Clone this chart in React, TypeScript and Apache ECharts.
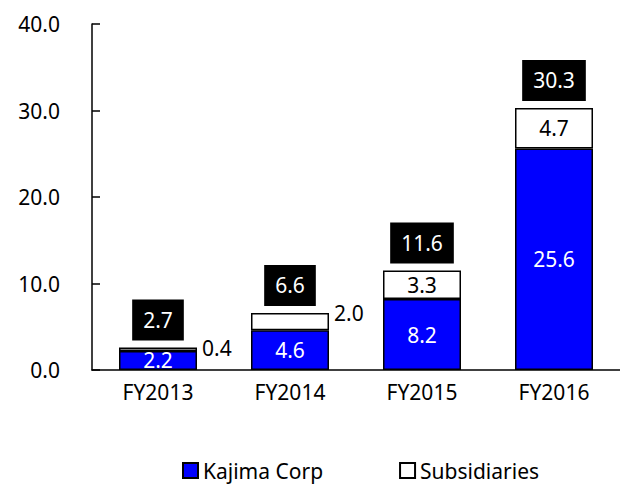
import React, { useEffect, useRef } from "react";
import * as echarts from "echarts";

const categories = ["FY2013", "FY2014", "FY2015", "FY2016"];
const kajima = [2.2, 4.6, 8.2, 25.6];
const subsidiaries = [0.4, 2.0, 3.3, 4.7];
const totals = [2.7, 6.6, 11.6, 30.3];
const outsideLabel = [true, true, false, false];

const FONT = "'Noto Sans', sans-serif";
const FS = 21;

export default function App() {
  const ref = useRef<HTMLDivElement>(null);
  useEffect(() => {
    if (!ref.current) return;
    const chart = echarts.init(ref.current, null, { renderer: "svg" });
    chart.setOption({
      animation: false,
      backgroundColor: "#fff",
      textStyle: { fontFamily: FONT },
      grid: { left: 92, top: 24, width: 530, height: 346, containLabel: false },
      legend: {
        data: ["Kajima Corp", "Subsidiaries"],
        left: 177,
        top: 455,
        icon: "rect",
        itemWidth: 15,
        itemHeight: 15,
        itemGap: 76,
        textStyle: { fontSize: FS, color: "#000", fontFamily: FONT },
      },
      xAxis: {
        type: "category",
        data: categories,
        axisLine: { lineStyle: { color: "#000", width: 1.5 } },
        axisTick: { inside: true, length: 7, lineStyle: { color: "#000", width: 1.5 } },
        axisLabel: { color: "#000", fontSize: FS, margin: 11, fontFamily: FONT },
      },
      yAxis: {
        type: "value",
        min: 0,
        max: 40,
        interval: 10,
        splitLine: { show: false },
        axisLine: { show: true, lineStyle: { color: "#000", width: 1.5 } },
        axisTick: { show: true, inside: true, length: 8, lineStyle: { color: "#000", width: 1.5 } },
        axisLabel: {
          color: "#000",
          fontSize: FS,
          margin: 32,
          fontFamily: FONT,
          formatter: (v: number) => v.toFixed(1),
        },
      },
      series: [
        {
          name: "Kajima Corp",
          type: "bar",
          stack: "s",
          barWidth: 78,
          data: kajima,
          itemStyle: { color: "#0000ff", borderColor: "#000", borderWidth: 1.5 },
          label: {
            show: true,
            position: "inside",
            color: "#fff",
            fontSize: FS,
            fontFamily: FONT,
            formatter: (p: any) => Number(p.value).toFixed(1),
          },
        },
        {
          name: "Subsidiaries",
          type: "bar",
          stack: "s",
          barWidth: 78,
          data: subsidiaries.map((v, i) =>
            outsideLabel[i]
              ? {
                  value: v,
                  label: {
                    position: ["100%", 0],
                    align: "left",
                    verticalAlign: "middle",
                    offset: [5, 0],
                  },
                }
              : { value: v }
          ),
          itemStyle: { color: "#fff", borderColor: "#000", borderWidth: 1.5 },
          label: {
            show: true,
            position: "inside",
            color: "#000",
            fontSize: FS,
            fontFamily: FONT,
            formatter: (p: any) => Number(p.value).toFixed(1),
          },
        },
        {
          name: "Total",
          type: "bar",
          stack: "s",
          barWidth: 78,
          data: totals.map(() => 0),
          itemStyle: { color: "transparent", borderWidth: 0 },
          label: {
            show: true,
            position: "top",
            distance: 7,
            color: "#fff",
            backgroundColor: "#000",
            padding: [10, 11],
            lineHeight: 21,
            fontSize: FS,
            fontFamily: FONT,
            formatter: (p: any) => totals[p.dataIndex].toFixed(1),
          },
        },
      ],
    });
    return () => chart.dispose();
  }, []);
  return (
    <div
      ref={ref}
      style={{ position: "fixed", left: 0, top: 0, width: 620, height: 486 }}
    />
  );
}
